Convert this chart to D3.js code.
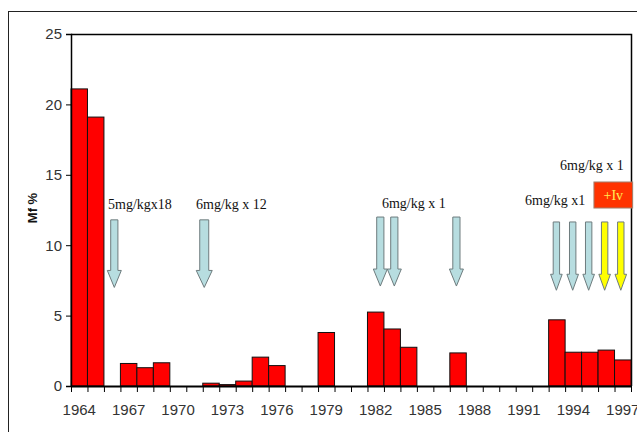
<!DOCTYPE html>
<html>
<head>
<meta charset="utf-8">
<script src="https://cdn.jsdelivr.net/npm/d3@7"></script>
<style>
  body { margin: 0; background: #fff; }
  svg { display: block; }
</style>
</head>
<body>
<svg id="mainsvg" width="637" height="432"></svg>
<script>
// data
const years = d3.range(1964, 1998)
const mfValues = [21.1, 19.1, 0, 1.6, 1.3, 1.65, 0, 0, 0.2, 0.1, 0.35, 2.05, 1.45, 0, 0, 3.8, 0, 0,
  5.25, 4.05, 2.75, 0, 0, 2.35, 0, 0, 0, 0, 0, 4.7, 2.4, 2.4, 2.55, 1.85]
const yTicks = [0, 5, 10, 15, 20, 25]
const xLabelYears = [1964, 1967, 1970, 1973, 1976, 1979, 1982, 1985, 1988, 1991, 1994, 1997]

// treatment arrows: position on the year axis, top / tip in Mf % units
const arrowPos = [1966.63, 1972.09, 1982.78, 1983.63, 1987.4, 1993.47, 1994.46, 1995.43, 1996.4, 1997.38]
const arrowTop = [11.8, 11.8, 12.0, 12.0, 12.0, 11.65, 11.65, 11.65, 11.65, 11.65]
const arrowTip = [7.0, 7.0, 7.1, 7.1, 7.1, 6.8, 6.8, 6.8, 6.8, 6.8]
const arrowKind = ['blue', 'blue', 'blue', 'blue', 'blue', 'blue', 'blue', 'blue', 'yellow', 'yellow']

const noteText = ['5mg/kgx18', '6mg/kg x 12', '6mg/kg x 1', '6mg/kg x1', '6mg/kg x 1']
const noteYear = [1966.25, 1971.59, 1982.88, 1991.57, 1993.69]
const noteVal = [12.57, 12.57, 12.64, 12.89, 15.34]

const ivBox = {label: '+Iv', x0: 1995.75, x1: 1998.1, y0: 14.49, y1: 12.64}

const svg = d3.select('#mainsvg')
const mLeft = 71, mRight = 631, mTop = 34, mBottom = 386

// outer frame
svg.append('rect')
  .attr('x', 8.5).attr('y', 11.5)
  .attr('width', 640).attr('height', 440)
  .attr('fill', 'none').attr('stroke', '#222').attr('stroke-width', 1)

const x = d3.scaleBand().domain(years).range([mLeft, mRight]).padding(0)
const xPos = d3.scaleLinear().domain([1964, 1998]).range([mLeft, mRight])
const y = d3.scaleLinear().domain([0, 25]).range([mBottom, mTop])

// plot border (top and right)
svg.append('path')
  .attr('d', `M${mLeft},${mTop + 0.5} H${mRight + 0.5} V${mBottom}`)
  .attr('fill', 'none').attr('stroke', '#000').attr('stroke-width', 1.5)

// bars
svg.append('g').selectAll('rect')
  .data(years.map((yr, i) => ({yr, v: mfValues[i]})).filter(d => d.v > 0))
  .join('rect')
  .attr('x', d => x(d.yr))
  .attr('y', d => y(d.v))
  .attr('width', x.bandwidth())
  .attr('height', d => y(0) - y(d.v))
  .attr('fill', '#ff0000')
  .attr('stroke', '#111')
  .attr('stroke-width', 1)

// y axis
const yAxis = svg.append('g')
  .attr('transform', `translate(${mLeft},0)`)
  .call(d3.axisLeft(y).tickValues(yTicks).tickSize(5).tickPadding(4))
yAxis.select('.domain').attr('stroke', '#000').attr('stroke-width', 1.5)
yAxis.selectAll('.tick line').attr('stroke', '#000')
yAxis.selectAll('.tick text')
  .attr('font-family', 'Liberation Sans, Arial, sans-serif')
  .attr('font-size', 15).attr('fill', '#333')

// x axis: ticks at year boundaries
const xAxis = svg.append('g')
  .attr('transform', `translate(0,${mBottom})`)
  .call(d3.axisBottom(xPos).tickValues(d3.range(1964, 1999)).tickFormat('').tickSize(6).tickSizeOuter(0))
xAxis.select('.domain').attr('stroke', '#000').attr('stroke-width', 2)
xAxis.selectAll('.tick line').attr('stroke', '#000')

svg.append('g').selectAll('text')
  .data(xLabelYears)
  .join('text')
  .attr('x', d => x(d) + x.bandwidth() / 2)
  .attr('y', 415)
  .attr('text-anchor', 'middle')
  .attr('font-family', 'Liberation Sans, Arial, sans-serif')
  .attr('font-size', 15)
  .attr('fill', '#333')
  .text(d => d)

// y title
svg.append('text')
  .attr('transform', 'translate(37,208) rotate(-90)')
  .attr('text-anchor', 'middle')
  .attr('font-family', 'Liberation Sans, Arial, sans-serif')
  .attr('font-weight', 'bold')
  .attr('font-size', 13)
  .attr('fill', '#111')
  .text('Mf %')

// arrows
function arrowPath(cx, yTop, yTip, sw, hw, hl) {
  return `M${cx - sw},${yTop} H${cx + sw} V${yTip - hl} H${cx + hw} L${cx},${yTip} L${cx - hw},${yTip - hl} H${cx - sw} Z`
}
const arrows = arrowPos.map((p, i) => ({p, t: arrowTop[i], b: arrowTip[i], k: arrowKind[i], i}))
svg.append('g').selectAll('path')
  .data(arrows)
  .join('path')
  .attr('d', d => {
    const wide = d.i < 5
    const sw = wide ? (d.i === 1 ? 4.5 : 3.6) : 3.2
    const hw = wide ? (d.i === 1 ? 8 : 7) : 5.8
    return arrowPath(xPos(d.p), y(d.t), y(d.b), sw, hw, wide ? 17 : 16)
  })
  .attr('fill', d => d.k === 'yellow' ? '#ffff00' : '#b7dde0')
  .attr('stroke', '#6e7c7e')
  .attr('stroke-width', 1)

// notes
svg.append('g').selectAll('text')
  .data(noteText.map((t, i) => ({t, yr: noteYear[i], v: noteVal[i]})))
  .join('text')
  .attr('x', d => xPos(d.yr))
  .attr('y', d => y(d.v))
  .attr('font-family', 'Liberation Serif, Times New Roman, serif')
  .attr('font-size', 14)
  .attr('fill', '#111')
  .text(d => d.t)

// +Iv box
svg.append('rect')
  .attr('x', xPos(ivBox.x0)).attr('y', y(ivBox.y0))
  .attr('width', xPos(ivBox.x1) - xPos(ivBox.x0))
  .attr('height', y(ivBox.y1) - y(ivBox.y0))
  .attr('fill', '#ff3300').attr('stroke', '#a08070').attr('stroke-width', 1)
svg.append('text')
  .attr('x', (xPos(ivBox.x0) + xPos(ivBox.x1)) / 2)
  .attr('y', y(ivBox.y1) - 8)
  .attr('text-anchor', 'middle')
  .attr('font-family', 'Liberation Serif, Times New Roman, serif')
  .attr('font-size', 14)
  .attr('fill', '#ffee55')
  .text(ivBox.label)
</script>
</body>
</html>
